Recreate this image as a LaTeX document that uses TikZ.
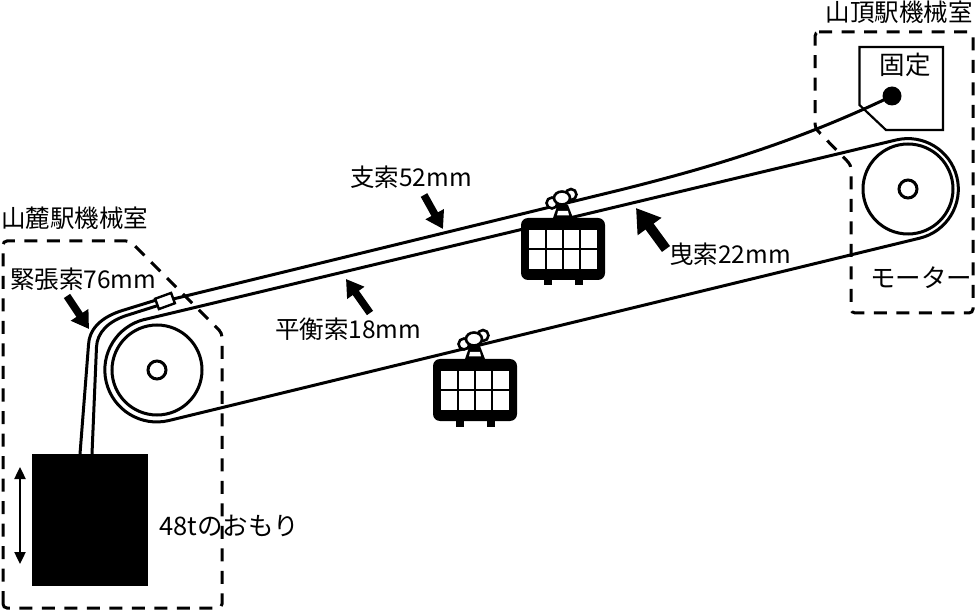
\documentclass[tikz,border=0pt]{standalone}
\usepackage{fontspec}
\setmainfont{Noto Sans CJK JP}
\usetikzlibrary{arrows.meta}
\tikzset{
  x=1pt,y=-1pt,
  rope/.style={line width=3pt,black,line join=round},
  wheelc/.style={draw=black,line width=3pt,fill=white},
  room/.style={line width=3pt,dash pattern=on 13pt off 9.5pt,rounded corners=4pt},
  lbl/.style={font=\fontsize{24.5}{26}\selectfont,inner sep=0pt,text=black},
  lblw/.style={font=\fontsize{25.5}{26}\selectfont,inner sep=0pt,text=black},
  point/.style={line width=7.5pt,-{Triangle[width=20pt,length=17pt]}},
  bigpoint/.style={line width=10pt,-{Triangle[width=28pt,length=23pt]}},
  updown/.style={line width=2.4pt,{Triangle[width=11pt,length=12pt]}-{Triangle[width=11pt,length=12pt]}},
  pics/gondola/.style={code={
    \fill[black] (32,0) -- (36.5,-13) -- (47,-13) -- (52,0) -- cycle;
    \fill[white] (37,-7) -- (47,-7) -- (48,-2.5) -- (36,-2.5) -- cycle;
    \draw[wheelc,line width=2.6pt] (31,-15) circle[radius=5.5];
    \draw[wheelc,line width=2.6pt] (50,-23.5) circle[radius=5.5];
    \draw[wheelc,line width=2.6pt] (41,-20) ellipse[x radius=8,y radius=6.5];
    \fill[black,rounded corners=7pt] (0,0) rectangle (84,62);
    \fill[black] (23,60) rectangle (31,67.5);
    \fill[black] (54,60) rectangle (62,67.5);
    \fill[white] (8,12) rectangle (76,51);
    \draw[black,line width=2.6pt] (25,10) -- (25,52) (42,10) -- (42,52) (59,10) -- (59,52) (6,31) -- (78,31);
  }}
}
\begin{document}
\begin{tikzpicture}
\useasboundingbox (0,0) rectangle (975,612);
\fill[white] (0,0) rectangle (975,612);

% machine rooms
\draw[room] (3,608) -- (3,241) -- (130,241) -- (222,333) -- (222,608) -- cycle;
\draw[room] (815,32) -- (973,32) -- (973,313) -- (851,313) -- (851,165) -- (815,128) -- cycle;

% fixed anchor
\draw[line width=2.2pt,line join=miter] (859.5,47) -- (943,47) -- (943,130) -- (886,130) -- (859.5,105) -- cycle;
\node[lblw] (fix) at (905,65) {固定};

% sheaves
\node[circle,wheelc,minimum size=90pt,inner sep=0pt] (sheaveL) at (157,370) {};
\node[circle,wheelc,minimum size=18pt,inner sep=0pt] (hubL) at (157,370) {};
\node[circle,wheelc,minimum size=90pt,inner sep=0pt] (sheaveR) at (908,189) {};
\node[circle,wheelc,minimum size=18pt,inner sep=0pt] (hubR) at (908,189) {};

% haul rope loop
\draw[rope] (145,319.4) -- (896,140) arc[start angle=-103.55,end angle=76.45,radius=50.5]
  -- (169,420.5) arc[start angle=76.45,end angle=256.45,radius=52] -- cycle;

% weight
\node[fill=black,minimum width=116pt,minimum height=132pt,inner sep=0pt] (weight) at (90,520) {};
\draw[updown] (20,467) -- (20,564);

% track and tension ropes
\node[circle,fill=black,minimum size=19pt,inner sep=0pt] (dot) at (892,96) {};
\coordinate (clamp) at (165,301);
\draw[rope] (clamp) -- (620,190) .. controls (700,170) and (790,145) .. (dot.center);
\draw[rope] (158,299.5) -- (124,310) .. controls (100,317) and (89,330) .. (88.5,345) -- (80,454);
\draw[rope] (158,305.5) -- (128,315) .. controls (108,321) and (97,333) .. (96.5,347) -- (92,454);
\draw[wheelc,line width=2.4pt,rotate around={20:(165,301)}] (156.5,295.5) rectangle (173.5,306.5);

% gondolas
\pic at (521,218) {gondola};
\pic at (433,359) {gondola};

% pointers
\coordinate (pa) at (424,195); \coordinate (pb) at (443,229);
\draw[point] (pa) -- (pb);
\coordinate (qa) at (666,249); \coordinate (qb) at (636,208);
\draw[bigpoint] (qa) -- (qb);
\coordinate (ra) at (370,313); \coordinate (rb) at (346,279);
\draw[point] (ra) -- (rb);
\coordinate (sa) at (67,296); \coordinate (sb) at (89,329);
\draw[point] (sa) -- (sb);

% labels
\node[lbl,anchor=east] (t1) at (973,12) {山頂駅機械室};
\node[lbl,anchor=west] (t2) at (1,218) {山麓駅機械室};
\node[lbl,anchor=west] (t3) at (10,279) {緊張索76mm};
\node[lbl,anchor=west] (t4) at (350,177) {支索52mm};
\node[lbl,anchor=west] (t5) at (669,254) {曳索22mm};
\node[lbl,anchor=west] (t6) at (275,329) {平衡索18mm};
\node[lblw,anchor=west] (t7) at (870,278) {モーター};
\node[lblw,anchor=west] (t8) at (159,526) {48tのおもり};
\end{tikzpicture}
\end{document}
